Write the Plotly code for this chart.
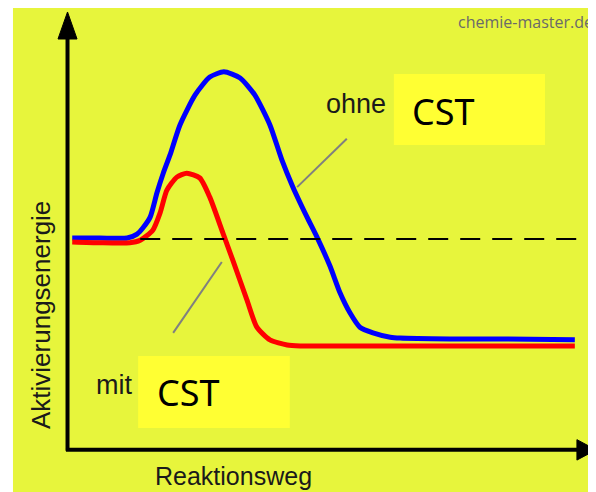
import plotly.graph_objects as go

# --- data (reaction coordinate 0..100, energy 0..100) ---
blue_x = [1, 6.3, 11.5, 13.4, 14.5, 15.9, 17.2, 18.4, 19.7, 21.6, 24.5, 27.3, 30.0, 33.1, 35.9,
          38.8, 41.1, 43.2, 45.9, 47.8, 50.3, 52.2, 54.1, 56.0, 58.5, 61.8, 63.7, 73.2, 82.8, 97.1]
blue_y = [48.5, 48.5, 48.5, 49.4, 50.8, 53.3, 58.9, 63.4, 67.6, 74.5, 81.4, 85.5, 86.7, 85.3, 81.4,
          74.5, 66.4, 60.2, 53.3, 48.7, 42.0, 35.9, 31.3, 28.0, 26.7, 25.7, 25.5, 25.3, 25.3, 25.1]

red_x = [1, 6.3, 12.0, 14.0, 16.4, 17.8, 19.1, 21.0, 22.9, 25.4, 27.3, 29.8, 31.7, 34.4, 36.3,
         38.8, 42.1, 44.6, 63.7, 97.1]
red_y = [47.6, 47.4, 47.4, 48.0, 50.3, 54.3, 59.5, 62.5, 63.4, 62.3, 57.9, 49.7, 43.4, 34.3, 28.0,
         25.1, 23.9, 23.7, 23.7, 23.7]

ref_x = [14.0, 100]
ref_y = [48.3, 48.3]

labels = {"ohne": "ohne", "mit": "mit", "cat": "CST",
          "x": "Reaktionsweg", "y": "Aktivierungsenergie", "src": "chemie-master.de"}

BG = "#e7f53c"
BOX = "#ffff33"
LABEL_FONT = "Liberation Sans, Arial, sans-serif"

fig = go.Figure()
fig.add_trace(go.Scatter(x=blue_x, y=blue_y, mode="lines",
                         line=dict(color="#0000ff", width=5, shape="spline", smoothing=0.6),
                         hoverinfo="skip"))
fig.add_trace(go.Scatter(x=red_x, y=red_y, mode="lines",
                         line=dict(color="#ff0000", width=5, shape="spline", smoothing=0.6),
                         hoverinfo="skip"))
fig.add_trace(go.Scatter(x=ref_x, y=ref_y, mode="lines",
                         line=dict(color="black", width=2, dash="20px,12px"),
                         hoverinfo="skip"))

shapes = []
# white outer strip on the left
shapes.append(dict(type="rect", xref="paper", yref="paper", x0=-0.12, x1=-0.1033, y0=-0.11, y1=1.04,
                   fillcolor="white", line=dict(width=0), layer="above"))
# axes
shapes.append(dict(type="line", xref="paper", yref="paper", x0=0.001, x1=0.001, y0=-0.004, y1=0.95,
                   line=dict(color="black", width=4)))
shapes.append(dict(type="line", xref="paper", yref="paper", x0=-0.002, x1=0.98, y0=-0.002, y1=-0.002,
                   line=dict(color="black", width=4)))
# arrow heads
shapes.append(dict(type="path", xref="paper", yref="paper",
                   path="M -0.0172,0.9425 L 0.0192,0.9425 L 0.001,1.0046 Z",
                   fillcolor="black", line=dict(color="black", width=1)))
shapes.append(dict(type="path", xref="paper", yref="paper",
                   path="M 0.975,0.0215 L 0.975,-0.0255 L 1.0115,-0.002 Z",
                   fillcolor="black", line=dict(color="black", width=1)))
# catalyst label boxes
shapes.append(dict(type="rect", xref="x", yref="y", x0=62.5, x1=91.4, y0=69.9, y1=86.2,
                   fillcolor=BOX, line=dict(width=0), layer="below"))
shapes.append(dict(type="rect", xref="x", yref="y", x0=13.6, x1=42.6, y0=4.8, y1=21.4,
                   fillcolor=BOX, line=dict(width=0), layer="below"))
# leader lines
shapes.append(dict(type="line", xref="x", yref="y", x0=44.0, y0=60.2, x1=53.5, y1=71.3,
                   line=dict(color="#808080", width=2)))
shapes.append(dict(type="line", xref="x", yref="y", x0=29.6, y0=43.0, x1=20.3, y1=26.7,
                   line=dict(color="#808080", width=2)))

annotations = [
    dict(x=55.3, y=79.2, xref="x", yref="y", text=labels["ohne"], showarrow=False,
         font=dict(family=LABEL_FONT, size=27, color="#1a1a1a")),
    dict(x=71.9, y=77.7, xref="x", yref="y", text=labels["cat"], showarrow=False,
         font=dict(family="Noto Sans", size=36, color="black")),
    dict(x=9.0, y=14.6, xref="x", yref="y", text=labels["mit"], showarrow=False,
         font=dict(family=LABEL_FONT, size=27, color="#1a1a1a")),
    dict(x=23.3, y=12.9, xref="x", yref="y", text=labels["cat"], showarrow=False,
         font=dict(family="Noto Sans", size=36, color="black")),
    dict(x=0.319, y=-0.062, xref="paper", yref="paper", text=labels["x"], showarrow=False,
         xanchor="center", yanchor="middle",
         font=dict(family=LABEL_FONT, size=25, color="#1a1a1a")),
    dict(x=-0.0497, y=0.308, xref="paper", yref="paper", text=labels["y"], showarrow=False,
         xanchor="center", yanchor="middle", textangle=-90,
         font=dict(family=LABEL_FONT, size=26, color="#1a1a1a")),
    dict(x=0.744, y=0.9816, xref="paper", yref="paper", text=labels["src"], showarrow=False,
         xanchor="left", yanchor="middle", font=dict(family="Open Sans", size=16, color="#6a6a6a")),
]

# the page body adds an 8px white margin; the figure is sized to fill the rest of the window
fig.update_layout(
    width=588, height=484,
    margin=dict(l=59, r=6, t=6, b=43),
    paper_bgcolor=BG, plot_bgcolor=BG,
    showlegend=False,
    xaxis=dict(range=[0, 100], visible=False, fixedrange=True),
    yaxis=dict(range=[0, 100], visible=False, fixedrange=True),
    shapes=shapes, annotations=annotations,
)

fig.write_html("out.html")
